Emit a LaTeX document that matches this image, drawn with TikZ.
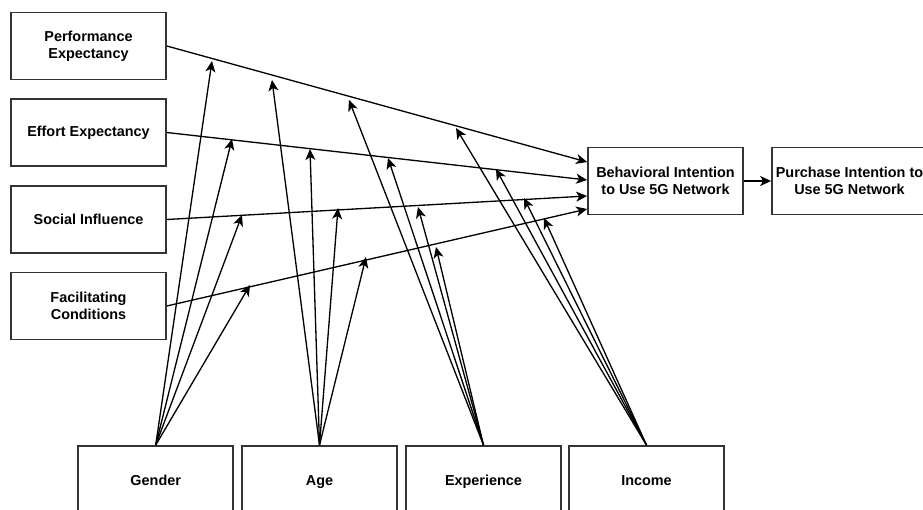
\documentclass[tikz,border=0pt]{standalone}
\usepackage{fontspec}
\setmainfont{Liberation Sans}
\usetikzlibrary{arrows.meta}

\begin{document}
\begin{tikzpicture}[x=0.02cm,y=-0.02cm,>={Stealth[length=2.2mm,width=2mm,inset=0.6mm]},line width=0.75pt]
\tikzstyle{box}=[draw=black!80,line width=1pt,minimum width=3.1cm,minimum height=1.34cm,align=center,inner sep=1pt,font=\fontsize{8.2}{9.6}\selectfont\bfseries]
\useasboundingbox (0,0) rectangle (923,510);
\clip (0,0) rectangle (923,510);
\node[box] (pe) at (88.5,46) {Performance\\Expectancy};
\node[box] (ee) at (88.5,132.5) {Effort Expectancy};
\node[box] (si) at (88.5,219.5) {Social Influence};
\node[box] (fc) at (88.5,306) {Facilitating\\Conditions};
\node[box] (bi) at (665.5,181) {Behavioral Intention\\to Use 5G Network};
\node[box] (pi) at (849.5,181) {Purchase Intention to\\Use 5G Network};
\foreach \n/\t/\x in {g/Gender/155.7,a/Age/319.5,e/Experience/483.5,i/Income/646.5} \node[box,text height=1.7ex,text depth=0.5ex] (\n) at (\x,479.5) {\t};
\foreach \s/\d in {pe/0.38,ee/0.02,si/-0.3,fc/-0.56} \draw[->] (\s.east) -- ([yshift=\d cm]bi.west);
\draw[->] (bi) -- (pi);
\foreach \m/\t/\x/\y in {g/pe/212/61,g/ee/232/139,g/si/242/215,g/fc/250/285,
  a/pe/272/80,a/ee/310/149,a/si/338/208,a/fc/366/257,
  e/pe/349/100,e/ee/388/158,e/si/418/207,e/fc/436/247,
  i/pe/456/128,i/ee/496/169,i/si/524/198,i/fc/544/218}
  {\coordinate (\m-\t) at (\x,\y); \draw[->] (\m.north) -- (\m-\t);}
\end{tikzpicture}
\end{document}
